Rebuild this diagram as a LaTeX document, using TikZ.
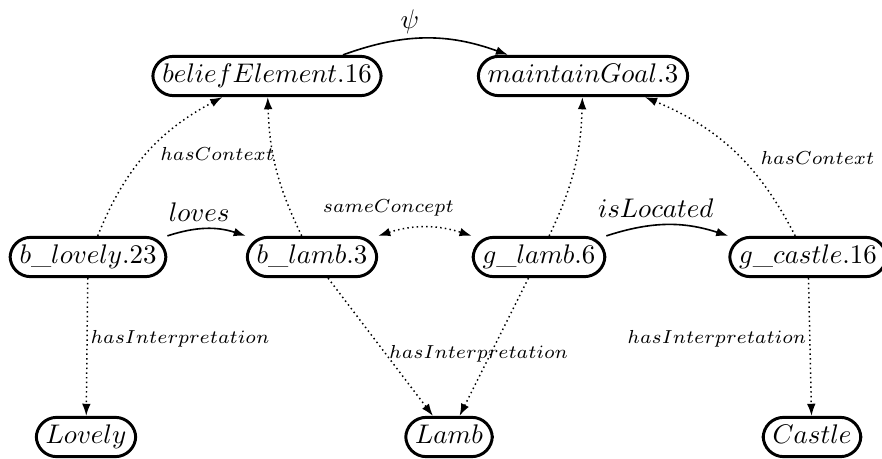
\documentclass[tikz,border=0pt]{standalone}
\usetikzlibrary{arrows.meta,calc}
\begin{document}
\begin{tikzpicture}[x=0.013066cm, y=-0.013066cm,
  nd/.style={draw, line width=1.1pt, rounded corners=7.6pt, inner xsep=3.5pt, inner ysep=2.8pt, text height=7pt, text depth=2pt, font=\normalsize},
  tip/.style={-{Latex[length=4.5pt,width=3.2pt]}},
  rel/.style={semithick, tip},
  dots/.style={line width=0.55pt, dash pattern=on 0.55pt off 1.2pt, tip},
  sm/.style={font=\scriptsize, inner sep=1pt},
  big/.style={font=\normalsize, inner sep=2.5pt}
]
\useasboundingbox (0,0) rectangle (882,458);

\node[nd] (be)  at (267,76)  {$beliefElement.16$};
\node[nd] (mg)  at (583,76)  {$maintainGoal.3$};
\node[nd] (bl)  at (88,257)  {$b\_lovely.23$};
\node[nd] (bla) at (312,257) {$b\_lamb.3$};
\node[nd] (gla) at (539,257) {$g\_lamb.6$};
\node[nd] (gc)  at (808,257) {$g\_castle.16$};
\node[nd] (Lo)  at (86,437)  {$Lovely$};
\node[nd] (La)  at (449,437) {$Lamb$};
\node[nd] (Ca)  at (812,437) {$Castle$};

% solid relations
\draw[rel] ($(be.north)+(76,0)$) to[bend left=20] node[big, pos=0.4, above, inner sep=1.5pt] {$\psi$} ($(mg.north)+(-75,0)$);
\draw[rel] (bl.north east) to[bend left=18] node[big, pos=0.4, above] {$loves$} (bla.north west);
\draw[rel] (gla.north east) to[bend left=18] node[big, pos=0.4, above] {$isLocated$} (gc.north west);

% sameConcept
\draw[dots, {Latex[length=4.5pt,width=3.2pt]}-{Latex[length=4.5pt,width=3.2pt]}] (bla.north east) to[bend left=18] node[sm, pos=0.1, above=5pt] {$sameConcept$} (gla.north west);

% hasContext
\draw[dots] (bl) to[bend left=20] node[sm, pos=0.5, right=4pt] {$hasContext$} (be);
\draw[dots] (bla) to[bend left=12] (be);
\draw[dots] (gla) to[bend right=12] (mg);
\draw[dots] (gc) to[bend right=20] node[sm, pos=0.45, right=6pt] {$hasContext$} (mg);

% hasInterpretation
\draw[dots] (bl) -- node[sm, pos=0.44, right] {$hasInterpretation$} (Lo);
\draw[dots] (bla) -- node[sm, pos=0.55, right] {$hasInterpretation$} (La);
\draw[dots] (gla) -- (La);
\draw[dots] (gc) -- node[sm, pos=0.44, left] {$hasInterpretation$} (Ca);
\end{tikzpicture}
\end{document}
